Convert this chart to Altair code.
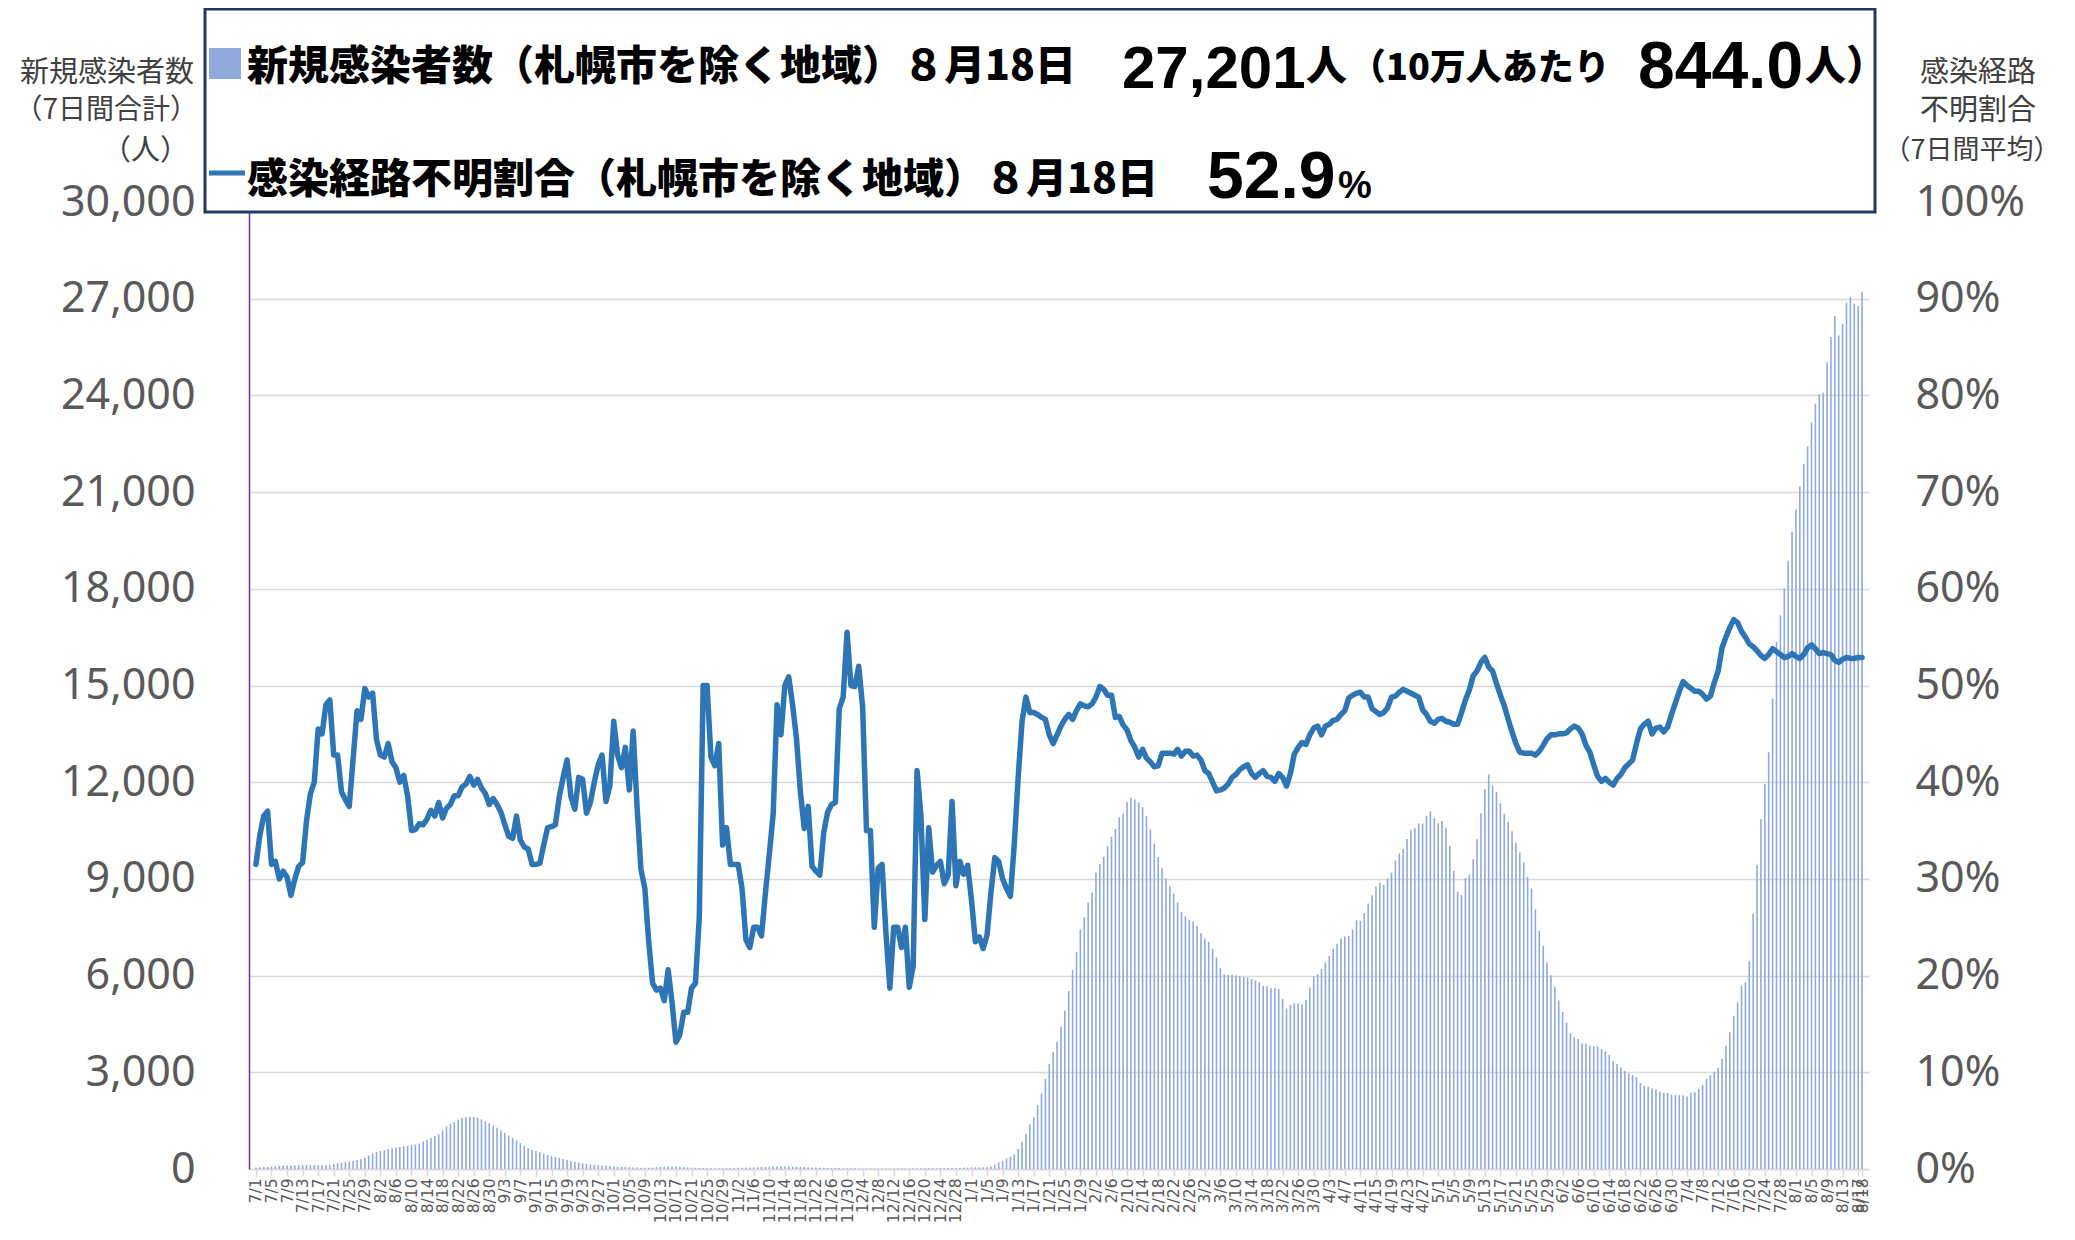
import altair as alt
import pandas as pd

# ---------------- data ----------------
dates = pd.date_range("2021-07-01", "2022-08-18", freq="D")
date_labels = [f"{d.month}/{d.day}" for d in dates]

# 新規感染者数（7日間合計, 札幌市を除く地域）
new_cases = [
    50, 55, 60, 65, 75, 85, 95,
    100, 105, 110, 115, 120, 125, 125, 120, 120, 115, 115, 120, 125,
    160, 180, 200, 210, 230, 250, 280, 300,
    350, 420, 480,
    530, 560, 590, 620, 640, 660, 680, 700, 720, 740, 760, 790,
    850, 900, 960, 1020, 1080,
    1200, 1320, 1400, 1460,
    1530, 1580, 1610, 1620, 1610, 1590,
    1540, 1480, 1420, 1350, 1280,
    1200, 1120, 1040, 960, 880, 800,
    720, 650, 600, 560, 520, 480,
    440, 400, 370, 340, 310, 280, 250, 220, 200, 180,
    160, 140, 130, 120, 110, 100,
    90, 80, 70, 65, 60, 55, 50, 45, 40, 38,
    40, 45, 55, 65, 75, 80, 80,
    80, 75, 65, 55, 45,
    35, 30, 28, 25, 25, 25, 25, 25, 28, 30, 32, 35, 38,
    40, 45, 50, 55, 60, 65, 70, 75, 80, 80, 80, 78, 75, 70, 65, 60, 55, 50, 45, 40,
    38, 35, 32, 30, 28, 25, 22, 20, 20, 20, 20, 20, 20, 18, 18, 18, 18, 18, 18, 20,
    20, 20, 20, 22, 22, 22, 25, 25, 25, 25, 28, 30, 30, 30, 32, 35, 40, 45, 55,
    50, 50, 55, 60, 76,
    130, 200, 260, 330, 380, 460, 620, 840, 1090, 1380,
    1600, 1980, 2340, 2800, 3260, 3640, 3940, 4410, 4920, 5520,
    6170, 6740, 7430, 7810, 8270, 8570, 9200, 9460, 9690, 10010,
    10310, 10550, 10910, 11020, 11380, 11510, 11460, 11380, 11220, 10940,
    10530, 10100, 9680, 9330, 9010, 8770, 8550, 8270, 7970, 7840,
    7720, 7680, 7540, 7310, 7150, 7050, 6830, 6560, 6230, 6040,
    6030, 6030, 6010, 5980, 5960, 5940, 5900, 5850, 5790, 5680,
    5680, 5610, 5610, 5580, 5280, 4980, 5090, 5140, 5140, 5110,
    5250, 5630, 5980, 6040, 6200, 6410, 6610, 6830, 6990, 7150,
    7210, 7230, 7430, 7720, 7700, 7940, 8240, 8490, 8770,
    8880, 8810, 9010, 9200, 9570, 9790, 9930, 10240, 10510, 10570,
    10720, 10720, 10940, 11100, 10880, 10730, 10800, 10590, 10020, 9250,
    8590, 8490, 9030, 9140, 9610, 10230, 11040, 11780, 12240, 11890,
    11700, 11350, 11020, 10770, 10480, 10120, 9820, 9520, 9060, 8700,
    8050, 7390, 6920, 6410, 6010, 5660, 5230, 4870, 4540, 4210,
    4080, 4030, 3890, 3890, 3830, 3810, 3800, 3720, 3650, 3540,
    3340, 3260, 3150, 3040, 2960, 2910, 2850, 2670, 2580, 2550,
    2500, 2470, 2400, 2360, 2360, 2310, 2290, 2290, 2280, 2250,
    2360, 2380, 2490, 2600, 2800, 2910, 3020, 3130, 3420, 3830,
    4240, 4740, 5170, 5680, 5790, 6450, 7920, 9440, 10860, 11950,
    12930,
    14590, 16350, 17180, 18010, 18870, 19770, 20470, 21180, 21870, 22420,
    23170, 23740, 24040, 24080, 25030, 25810, 26460, 25860, 26220, 26880,
    27050, 26840, 26770, 27201,
]

# 感染経路不明割合（7日間平均, %）
unknown_pct = [
    31.5, 34.5, 36.5, 37.0, 31.5, 31.8, 30.0, 30.8, 30.2, 28.3,
    30.0, 31.3, 31.7, 36.0, 38.8, 40.0, 45.5, 45.0, 48.0, 48.5,
    42.8, 42.8, 39.0, 38.2, 37.5, 42.5, 47.4, 46.5, 49.7, 48.8,
    49.2, 44.4, 42.8, 42.6, 44.0, 42.1, 41.5, 40.0, 40.7, 38.6,
    35.0, 35.1, 35.7, 35.6, 36.2, 37.1, 36.5, 37.9, 36.3, 37.3,
    37.7, 38.6, 38.6, 39.5, 39.8, 40.6, 39.7, 40.3, 39.4, 38.8,
    37.7, 38.3, 37.7, 36.9, 35.6, 34.4, 34.2, 36.5, 34.0, 33.3,
    33.1, 31.5, 31.5, 31.6, 33.5, 35.3, 35.4, 35.6, 38.5, 40.5,
    42.3, 38.5, 37.2, 40.5, 40.3, 36.8, 37.9, 40.0, 41.8, 42.8,
    38.0, 39.6, 46.3, 42.8, 41.5, 43.6, 39.2, 45.3, 37.5, 31.0,
    29.0, 23.5, 19.2, 18.5, 18.7, 17.4, 20.6, 17.2, 13.1, 13.9,
    16.2, 16.2, 18.7, 19.2, 26.0, 50.0, 50.0, 42.6, 41.7, 44.0,
    33.5, 35.3, 31.5, 31.5, 31.5, 29.0, 23.7, 22.9, 25.0, 25.0,
    24.1, 28.5, 32.5, 36.7, 48.0, 44.9, 50.0, 50.9, 48.0, 44.5,
    39.0, 35.2, 37.5, 31.3, 30.8, 30.4, 34.8, 36.9, 37.7, 37.9,
    47.6, 48.8, 55.5, 50.0, 49.9, 52.0, 47.8, 35.0, 35.0, 25.0,
    31.1, 31.5, 24.4, 18.7, 25.0, 25.0, 22.9, 25.0, 18.8, 21.0,
    41.2, 36.5, 25.8, 35.3, 30.7, 31.4, 31.8, 29.5, 30.4, 38.0,
    29.3, 31.8, 30.5, 31.4, 27.8, 23.5, 24.0, 22.8, 24.2, 28.6,
    32.2, 31.8, 30.0, 29.0, 28.2, 33.6, 40.5, 46.3, 48.8, 47.2,
    47.2, 47.0, 46.7, 46.5, 44.9, 44.0, 44.9, 45.8, 46.5, 47.0,
    46.5, 47.4, 48.1, 47.9, 47.8, 48.1, 48.8, 49.9, 49.6, 49.0,
    49.0, 46.7, 46.8, 45.9, 45.4, 44.3, 43.6, 42.6, 43.4, 42.5,
    42.1, 41.6, 41.7, 43.0, 43.0, 43.0, 42.9, 43.4, 42.7, 43.2,
    43.2, 42.7, 42.8, 42.3, 41.2, 40.9, 40.0, 39.1, 39.2, 39.4,
    39.8, 40.5, 40.8, 41.3, 41.6, 41.8, 40.9, 40.5, 40.9, 41.2,
    40.6, 40.5, 40.1, 40.9, 40.5, 39.6, 40.9, 42.9, 43.6, 44.1,
    43.9, 44.9, 45.6, 45.8, 44.9, 45.8, 46.0, 46.4, 46.5, 47.0,
    47.4, 48.7, 49.0, 49.2, 49.3, 48.8, 48.8, 47.6, 47.3, 47.0,
    47.2, 47.7, 48.8, 48.9, 49.3, 49.6, 49.4, 49.2, 49.0, 48.8,
    47.5, 47.0, 46.3, 46.1, 46.5, 46.6, 46.3, 46.2, 46.0, 46.0,
    47.2, 48.5, 49.5, 51.0, 51.5, 52.4, 52.9, 51.9, 51.5, 50.2,
    49.0, 47.9, 46.5, 45.2, 44.0, 43.1, 43.0, 43.0, 43.0, 42.8,
    43.2, 43.8, 44.5, 44.9, 44.9, 45.0, 45.0, 45.1, 45.5, 45.8,
    45.6, 45.0, 43.8, 43.1, 41.8, 40.6, 40.1, 40.4, 40.0, 39.7,
    40.4, 40.8, 41.5, 41.9, 42.3, 44.0, 45.5, 46.0, 46.3, 45.0,
    45.6, 45.7, 45.2, 45.7, 47.0, 48.2, 49.4, 50.4, 50.0, 49.7,
    49.4, 49.4, 49.1, 48.6, 48.9, 50.3, 51.5, 53.9, 55.0, 56.0,
    56.8, 56.5, 55.6, 55.0, 54.3, 54.0, 53.6, 53.1, 52.8, 53.2,
    53.8, 53.5, 53.2, 52.9, 53.0, 53.3, 53.0, 52.8, 53.2, 53.9,
    54.2, 53.8, 53.3, 53.4, 53.3, 53.2, 52.6, 52.4, 52.7, 52.9,
    52.8, 52.8, 52.9, 52.9,
]

left_ticks = list(range(0, 30001, 3000))
right_ticks = list(range(0, 101, 10))

n = len(dates)
assert len(new_cases) == n and len(unknown_pct) == n

df = pd.DataFrame({"i": list(range(n)), "label": date_labels,
                   "cases": new_cases, "pct": unknown_pct})
tick_idx = list(range(0, n - 1, 4)) + [n - 1]
label_expr = "[" + ",".join(f"'{s}'" for s in date_labels) + "][datum.value]"

# ---------------- layout ----------------
W, H = 1620, 967
CJK = "Noto Sans CJK JP"
NUM = "Noto Sans"
BIG = "Liberation Sans"
GRAY = "#595959"
one = pd.DataFrame({"k": [0]})

x_scale = alt.Scale(domain=[-0.5, n - 0.5], nice=False, zero=False)
x_axis = alt.Axis(
    values=tick_idx, labelExpr=label_expr, labelAngle=270,
    labelFont="DejaVu Sans", labelFontSize=15.5, labelColor=GRAY,
    labelOverlap=False, labelBound=False, labelFlush=False, labelPadding=2,
    tickSize=7, tickColor="#D9D9D9", tickWidth=1.5,
    domainColor="#D9D9D9", domainWidth=1.5, grid=False, title=None)

bars = alt.Chart(df).mark_bar(color="#8FAADC", size=1.6).encode(
    x=alt.X("i:Q", scale=x_scale, axis=x_axis),
    y=alt.Y("cases:Q", scale=alt.Scale(domain=[0, 30000], nice=False), axis=alt.Axis(
        values=left_ticks, labelExpr="format(datum.value, ',d')",
        labelFont=NUM, labelFontSize=43,
        labelColor=GRAY, ticks=False, labelPadding=54,
        domainColor="#7030A0", domainWidth=1.5,
        grid=True, gridColor="#D9D9D9", gridWidth=1.5, title=None)),
)

line = alt.Chart(df).mark_line(color="#2E75B6", strokeWidth=5.5,
                               strokeJoin="round", strokeCap="round").encode(
    x=alt.X("i:Q", scale=x_scale, axis=x_axis),
    y=alt.Y("pct:Q", scale=alt.Scale(domain=[0, 100], nice=False), axis=alt.Axis(
        orient="right", values=right_ticks, labelExpr="datum.value + '%'",
        labelFont=NUM, labelFontSize=43, labelColor=GRAY, ticks=False,
        labelPadding=46, domain=False, grid=False, title=None)),
)


def txt(x, y, s, size, font=CJK, weight="normal", align="left",
        baseline="alphabetic", color="#000000"):
    return alt.Chart(one).mark_text(
        text=s, fontSize=size, font=font, fontWeight=weight, align=align,
        baseline=baseline, color=color).encode(x=alt.value(x), y=alt.value(y))


box = alt.Chart(one).mark_rect(fill="white", stroke="#1F3864", strokeWidth=3).encode(
    x=alt.value(-44), x2=alt.value(1626), y=alt.value(-193), y2=alt.value(10))
sw_bar = alt.Chart(one).mark_rect(fill="#8FAADC").encode(
    x=alt.value(-40), x2=alt.value(-8), y=alt.value(-154), y2=alt.value(-123))
sw_line = alt.Chart(one).mark_rule(color="#2E75B6", strokeWidth=5).encode(
    x=alt.value(-40), x2=alt.value(-4), y=alt.value(-29))

texts = [
    # legend line 1
    txt(-2, -122, "新規感染者数（札幌市を除く地域）８月18日", 41, weight=900),
    txt(873, -114, "27,201", 60, font=BIG, weight="bold"),
    txt(1057, -122, "人", 41, weight=900),
    txt(1101, -122, "（10万人あたり", 36, weight=900),
    txt(1389, -114, "844.0", 66, font=BIG, weight="bold"),
    txt(1556, -122, "人）", 41, weight=900),
    # legend line 2
    txt(-2, -9, "感染経路不明割合（札幌市を除く地域）８月18日", 41, weight=900),
    txt(958, -4, "52.9", 66, font=BIG, weight="bold"),
    txt(1089, -4, "%", 38, font=BIG, weight="bold"),
    # left axis title
    txt(-55, -129, "新規感染者数", 29, align="right", baseline="middle", color="#404040"),
    txt(-51, -91, "（7日間合計）", 28, align="right", baseline="middle", color="#404040"),
    txt(-60, -51, "（人）", 29, align="right", baseline="middle", color="#404040"),
    # right axis title
    txt(1729, -129, "感染経路", 29, align="center", baseline="middle", color="#404040"),
    txt(1729, -91, "不明割合", 29, align="center", baseline="middle", color="#404040"),
    txt(1723, -51, "（7日間平均）", 27, align="center", baseline="middle", color="#404040"),
]

chart = alt.layer(bars, line, box, sw_bar, sw_line, *texts).resolve_scale(
    y="independent"
).properties(
    width=W, height=H,
    autosize=alt.AutoSizeParams(type="none"),
    padding={"left": 241, "top": 194, "right": 198, "bottom": 63},
    background="white",
).configure_view(stroke=None)

chart.save("out.html", embed_options={"renderer": "svg", "actions": False})
